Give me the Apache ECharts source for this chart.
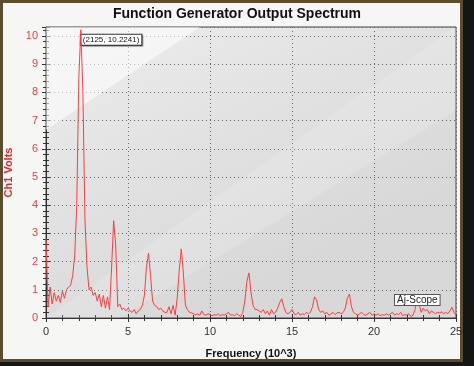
<!DOCTYPE html>
<html>
<head>
<meta charset="utf-8">
<script src="https://cdn.jsdelivr.net/npm/echarts@6/dist/echarts.min.js"></script>
<style>
html,body{margin:0;padding:0;background:#151515;}
#c{width:474px;height:366px;}
</style>
</head>
<body>
<div id="c"></div>
<script>
// Frequency in kHz (x 10^3)
const freqs = [
0,0.125,0.25,0.375,0.5,0.625,0.75,0.875,1,1.125,1.25,1.375,1.5,1.625,1.75,1.875,
2,2.125,2.25,2.375,2.5,2.625,2.75,2.875,3,3.125,3.25,3.375,3.5,3.625,3.75,3.875,
4,4.125,4.25,4.375,4.5,4.625,4.75,4.875,5,5.125,5.25,5.375,5.5,5.625,5.75,5.875,
6,6.125,6.25,6.375,6.5,6.625,6.75,6.875,7,7.125,7.25,7.375,7.5,7.625,7.75,7.875,
8,8.125,8.25,8.375,8.5,8.625,8.75,8.875,9,9.125,9.25,9.375,9.5,9.625,9.75,9.875,
10,10.125,10.25,10.375,10.5,10.625,10.75,10.875,11,11.125,11.25,11.375,11.5,11.625,11.75,11.875,
12,12.125,12.25,12.375,12.5,12.625,12.75,12.875,13,13.125,13.25,13.375,13.5,13.625,13.75,13.875,
14,14.125,14.25,14.375,14.5,14.625,14.75,14.875,15,15.125,15.25,15.375,15.5,15.625,15.75,15.875,
16,16.125,16.25,16.375,16.5,16.625,16.75,16.875,17,17.125,17.25,17.375,17.5,17.625,17.75,17.875,
18,18.125,18.25,18.375,18.5,18.625,18.75,18.875,19,19.125,19.25,19.375,19.5,19.625,19.75,19.875,
20,20.125,20.25,20.375,20.5,20.625,20.75,20.875,21,21.125,21.25,21.375,21.5,21.625,21.75,21.875,
22,22.125,22.25,22.375,22.5,22.625,22.75,22.875,23,23.125,23.25,23.375,23.5,23.625,23.75,23.875,
24,24.125,24.25,24.375,24.5,24.625,24.75,24.875,25
];
// Ch1 Volts
const volts = [
2.8,0.4,1.1,0.5,0.9,0.6,0.8,0.55,0.95,0.7,1.0,1.1,1.15,1.5,2.2,4.0,
8.5,10.2241,8.0,3.5,1.8,1.0,1.1,0.8,0.9,0.6,0.85,0.4,0.8,0.35,0.75,0.3,
1.8,3.45,2.6,0.4,0.5,0.3,0.35,0.25,0.35,0.25,0.2,0.3,0.15,0.25,0.3,0.45,
0.8,1.8,2.3,1.5,0.6,0.45,0.4,0.3,0.35,0.25,0.2,0.2,0.4,0.15,0.45,0.1,
0.7,1.7,2.45,1.6,0.45,0.3,0.2,0.18,0.15,0.12,0.15,0.1,0.25,0.12,0.1,0.15,
0.12,0.08,0.12,0.1,0.15,0.08,0.12,0.1,0.15,0.2,0.1,0.12,0.08,0.15,0.1,0.05,
0.2,0.6,1.3,1.6,0.9,0.45,0.3,0.3,0.25,0.2,0.3,0.15,0.25,0.1,0.3,0.15,
0.2,0.35,0.55,0.68,0.4,0.2,0.15,0.2,0.3,0.15,0.12,0.2,0.1,0.15,0.12,0.2,
0.15,0.2,0.4,0.75,0.65,0.3,0.2,0.25,0.15,0.2,0.1,0.15,0.2,0.12,0.18,0.2,
0.15,0.2,0.35,0.7,0.85,0.4,0.2,0.15,0.1,0.15,0.2,0.12,0.1,0.15,0.2,0.1,
0.15,0.1,0.15,0.08,0.12,0.1,0.15,0.1,0.15,0.2,0.1,0.15,0.12,0.2,0.08,0.12,
0.1,0.15,0.05,0.1,0.3,0.65,0.5,0.2,0.35,0.25,0.3,0.15,0.25,0.2,0.15,0.2,
0.18,0.22,0.15,0.2,0.15,0.25,0.38,0.2,0.1
];
const peakLabel = '(2125, 10.2241)';
const titleText = 'Function Generator Output Spectrum';
const xName = 'Frequency (10^3)';
const yName = 'Ch1 Volts';
const watermark = 'Aj-Scope';

const points = freqs.map((f, i) => [f, volts[i]]);
const peakIdx = volts.indexOf(Math.max(...volts));

const chart = echarts.init(document.getElementById('c'), null, {renderer: 'canvas'});
const font = 'Arial, "Liberation Sans", sans-serif';
const red = '#e8404a';

chart.setOption({
  animation: false,
  backgroundColor: 'transparent',
  textStyle: {fontFamily: font},
  title: {
    text: titleText, left: 'center', top: 2,
    textStyle: {fontSize: 14, fontWeight: 'bold', color: '#111', fontFamily: font}
  },
  graphic: [
    {type: 'rect', z: -20, shape: {x: 0, y: 0, width: 474, height: 366}, style: {fill: '#151515'}},
    {type: 'rect', z: -19, shape: {x: 1.5, y: 1.5, width: 460, height: 359}, style: {fill: '#f6f6f4', stroke: '#5e4c2e', lineWidth: 3}},
    {type: 'polygon', z: 1, silent: true,
      shape: {points: [[46, 130], [46, 27], [200, 27]]},
      style: {fill: 'rgba(255,255,255,0.55)'}},
    {type: 'polygon', z: 1, silent: true,
      shape: {points: [[46, 318], [456, 27], [456, 110], [120, 318]]},
      style: {fill: 'rgba(255,255,255,0.15)'}},
    {type: 'text', z: 10, left: 394, top: 294,
      style: {text: watermark, fontSize: 10, fill: '#222', fontFamily: font,
        backgroundColor: '#fff', borderColor: '#555', borderWidth: 1, padding: [0, 2]}}
  ],
  grid: {
    left: 46, right: 18, top: 27, bottom: 48,
    outerBoundsMode: 'none', containLabel: false,
    show: true, borderColor: '#444', borderWidth: 1,
    backgroundColor: {
      type: 'linear', x: 0, y: 0, x2: 0.35, y2: 1,
      colorStops: [
        {offset: 0, color: '#eeeeee'},
        {offset: 0.5, color: '#e2e2e2'},
        {offset: 1, color: '#d8d8d8'}
      ]
    }
  },
  xAxis: [{
    type: 'value', min: 0, max: 25, interval: 5,
    name: xName, nameLocation: 'middle', nameGap: 30,
    nameTextStyle: {fontSize: 11, fontWeight: 'bold', color: '#111'},
    axisLine: {show: true, onZero: false, lineStyle: {color: '#333'}},
    axisTick: {show: true, inside: false, length: 4, lineStyle: {color: '#333'}},
    minorTick: {show: true, splitNumber: 5, length: 3, lineStyle: {color: '#333'}},
    axisLabel: {fontSize: 11, color: '#333', margin: 8},
    splitLine: {show: true, lineStyle: {color: '#666', type: [1, 3], width: 1}}
  }, {
    type: 'value', position: 'top', min: 0, max: 25, interval: 5,
    axisLine: {show: true, lineStyle: {color: '#333'}},
    axisTick: {show: true, inside: true, length: 4, lineStyle: {color: '#333'}},
    minorTick: {show: true, splitNumber: 5, length: 3, lineStyle: {color: '#333'}},
    axisLabel: {show: false}, splitLine: {show: false}
  }, {
    type: 'value', position: 'bottom', min: 0, max: 25, interval: 5,
    axisLine: {show: false, onZero: false},
    axisTick: {show: true, inside: true, length: 4, lineStyle: {color: '#333'}},
    minorTick: {show: true, splitNumber: 5, length: 3, lineStyle: {color: '#333'}},
    axisLabel: {show: false}, splitLine: {show: false}
  }],
  yAxis: [{
    type: 'value', min: 0, max: 10.32, interval: 1,
    name: yName, nameLocation: 'middle', nameGap: 30, nameRotate: 90,
    nameTextStyle: {fontSize: 11, fontWeight: 'bold', color: '#e02828'},
    axisLine: {show: true, lineStyle: {color: '#333'}},
    axisTick: {show: true, inside: false, length: 4, lineStyle: {color: '#333'}},
    minorTick: {show: true, splitNumber: 5, length: 3, lineStyle: {color: '#333'}},
    axisLabel: {fontSize: 11, color: red, margin: 8, showMaxLabel: false},
    splitLine: {show: true, lineStyle: {color: '#666', type: [1, 3], width: 1}}
  }, {
    type: 'value', position: 'left', min: 0, max: 10.32, interval: 1,
    axisLine: {show: false},
    axisTick: {show: true, inside: true, length: 4, lineStyle: {color: '#333'}},
    minorTick: {show: true, splitNumber: 5, length: 3, lineStyle: {color: '#333'}},
    axisLabel: {show: false}, splitLine: {show: false}
  }],
  series: [{
    type: 'line', xAxisIndex: 0, yAxisIndex: 0,
    data: points, showSymbol: false, symbol: 'none', z: 5,
    lineStyle: {color: '#ff3c3c', width: 1},
    markPoint: {
      symbol: 'circle', symbolSize: 0, silent: true,
      data: [{coord: points[peakIdx]}],
      label: {
        show: true, position: [0, 5], formatter: peakLabel,
        fontSize: 8, color: '#111', fontFamily: font,
        backgroundColor: '#fff', borderColor: '#333', borderWidth: 1,
        padding: [1, 2], shadowColor: 'rgba(0,0,0,0.35)', shadowOffsetX: 1, shadowOffsetY: 1, shadowBlur: 1
      }
    }
  }]
});
</script>
</body>
</html>
